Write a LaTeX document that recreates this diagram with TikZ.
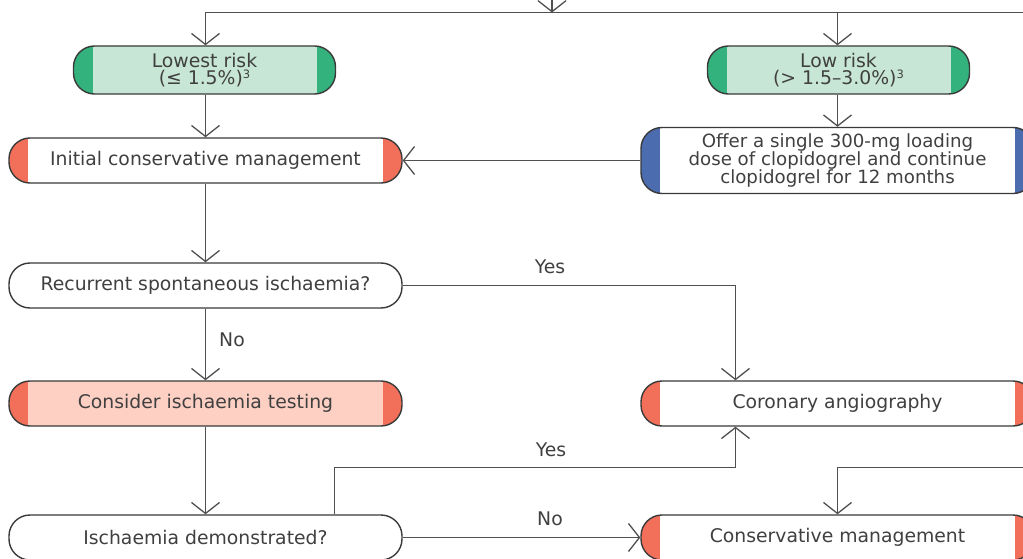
\documentclass[tikz,border=0pt]{standalone}
\usepackage{fontspec}
\setmainfont{DejaVu Sans}
\usetikzlibrary{arrows.meta,calc}
\definecolor{gstrip}{HTML}{34B27D}
\definecolor{gfill}{HTML}{C7E6D5}
\definecolor{rstrip}{HTML}{F2705A}
\definecolor{rfill}{HTML}{FDD0C3}
\definecolor{bstrip}{HTML}{4B6DB0}
\definecolor{boxline}{HTML}{3A3A3A}
\definecolor{conn}{HTML}{505050}
\definecolor{txt}{HTML}{404040}
\newcommand{\supthree}{\raisebox{0.3em}{\fontsize{11.5}{11.5}\selectfont 3}}
\tikzset{
  box/.style={draw=boxline, line width=1.4pt, rounded corners=21pt,
    minimum height=45pt, minimum width=393pt, inner sep=0pt, align=center,
    text=txt, font=\fontsize{18.8}{15.5}\selectfont},
  twoline/.style={minimum width=262pt, minimum height=48pt,
    font=\fontsize{18.8}{17}\selectfont},
  threeline/.style={minimum height=66pt, font=\fontsize{18.2}{18}\selectfont},
  strips/.style={path picture={
    \fill[#1, sharp corners] (path picture bounding box.north west) rectangle ([xshift=19pt]path picture bounding box.south west);
    \fill[#1, sharp corners] (path picture bounding box.north east) rectangle ([xshift=-19pt]path picture bounding box.south east);}},
  conline/.style={draw=conn, line width=1.3pt},
  arr/.style={conline, -{Straight Barb[length=11pt,width=28pt,line width=1.3pt]}},
  lbl/.style={text=txt, font=\fontsize{18.8}{20}\selectfont, inner sep=0pt}
}
\begin{document}
\lineskiplimit=-100pt\relax
\begin{tikzpicture}[x=1pt,y=-1pt]
\useasboundingbox (0,0) rectangle (1023,559);
\clip (0,0) rectangle (1023,559);
\fill[white] (0,0) rectangle (1023,559);

% nodes
\node[box, twoline, fill=gfill, strips=gstrip] (lowest) at (204.5,70) {Lowest risk\\(≤ 1.5\%)\supthree};
\node[box, twoline, fill=gfill, strips=gstrip] (low) at (838.5,70) {Low risk\\(> 1.5–3.0\%)\supthree};
\node[box, fill=white, strips=rstrip] (initial) at (205.5,160.5) {Initial conservative management};
\node[box, threeline, fill=white, strips=bstrip] (offer) at (837.5,160.5) {Offer a single 300-mg loading\\dose of clopidogrel and continue\\clopidogrel for 12 months};
\node[box, fill=white] (recurrent) at (205.5,285.5) {Recurrent spontaneous ischaemia?};
\node[box, fill=rfill, strips=rstrip] (consider) at (205.5,403.5) {Consider ischaemia testing};
\node[box, fill=white, strips=rstrip] (coronary) at (837.5,403.5) {Coronary angiography};
\node[box, fill=white] (ischdem) at (205.5,537.5) {Ischaemia demonstrated?};
\node[box, fill=white, strips=rstrip] (conserv) at (837.5,537.5) {Conservative management};

% free ends
\coordinate (topin) at (552,-5);
\coordinate (split) at (552,12.5);
\coordinate (rightA) at (1040,12.5);
\coordinate (rightB) at (1040,467.5);

% connectors
\draw[arr] (topin) -- (split);
\draw[arr] (rightA) -| (initial.north |- lowest.north);
\draw[arr] (offer.north |- rightA) -- (offer.north |- low.north);
\draw[arr] (initial.north |- lowest.south) -- (initial.north);
\draw[arr] (offer.north |- low.south) -- (offer.north);
\draw[arr] (offer.west) -- (initial.east);
\draw[arr] (initial) -- (recurrent);
\draw[arr] (recurrent.east) -| ([xshift=-102pt]coronary.north);
\draw[arr] (recurrent) -- (consider);
\draw[arr] (consider) -- (ischdem);
\draw[arr] ([xshift=129pt]ischdem.north) -- ++(0,-47) -| ([xshift=-102pt]coronary.south);
\draw[arr] (ischdem.east) -- (conserv.west);
\draw[arr] (rightB) -| (conserv.north);

% labels
\node[lbl] (yes1) at (550,267) {Yes};
\node[lbl] (no1) at (232,340) {No};
\node[lbl] (yes2) at (551,450) {Yes};
\node[lbl] (no2) at (550,519) {No};
\end{tikzpicture}
\end{document}
